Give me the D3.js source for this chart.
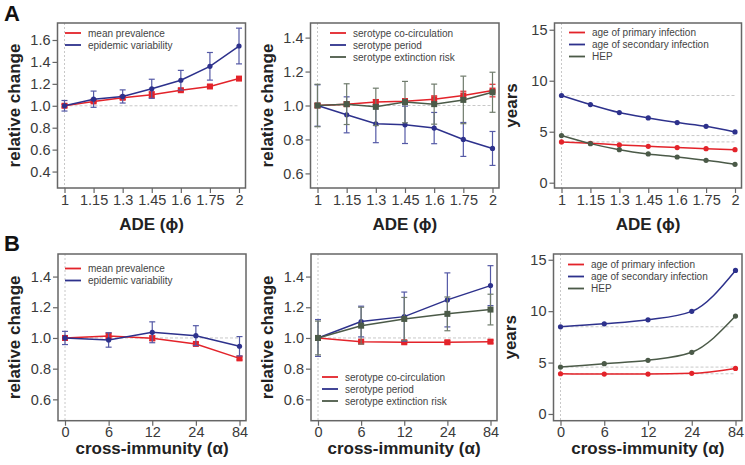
<!DOCTYPE html>
<html>
<head>
<meta charset="utf-8">
<script src="https://cdn.jsdelivr.net/npm/d3@7"></script>
<style>
  body { margin: 0; background: #fff; }
  svg text { font-family: "Liberation Sans", Arial, sans-serif; }
</style>
</head>
<body>
<div class="chart"></div>
<script>
// x categories
var adeTicks = ["1", "1.15", "1.3", "1.45", "1.6", "1.75", "2"];
var crossTicks = ["0", "6", "12", "24", "84"];

// Panel A1
var meanPrevA = [1.0, 1.04, 1.073, 1.10, 1.142, 1.176, 1.248];
var meanPrevAErr = [0.012, 0.012, 0.015, 0.028, 0.012, 0.012, 0.012];
var epiVarA = [1.0, 1.06, 1.085, 1.155, 1.233, 1.36, 1.545];
var epiVarAErr = [0.048, 0.074, 0.06, 0.087, 0.09, 0.126, 0.163];

// Panel A2
var cocircA = [1.0, 1.008, 1.02, 1.025, 1.037, 1.059, 1.088];
var cocircAErr = [0.01, 0.012, 0.015, 0.015, 0.02, 0.025, 0.037];
var periodA = [1.0, 0.945, 0.892, 0.886, 0.867, 0.80, 0.747];
var periodAErr = [0.122, 0.106, 0.111, 0.11, 0.092, 0.1, 0.1];
var extinctA = [1.0, 1.008, 0.992, 1.02, 1.008, 1.033, 1.078];
var extinctAErr = [0.125, 0.12, 0.11, 0.122, 0.118, 0.14, 0.118];

// Panel A3
var primaryA = [4.0, 3.87, 3.7, 3.57, 3.44, 3.34, 3.24];
var secondaryA = [8.55, 7.66, 6.88, 6.35, 5.9, 5.53, 4.98];
var hepA = [4.62, 3.83, 3.24, 2.82, 2.52, 2.19, 1.8];

// Panel B1
var meanPrevB = [1.0, 1.013, 0.998, 0.961, 0.867];
var meanPrevBErr = [0.01, 0.02, 0.015, 0.01, 0.01];
var epiVarB = [1.0, 0.987, 1.037, 1.015, 0.946];
var epiVarBErr = [0.043, 0.047, 0.068, 0.065, 0.063];

// Panel B2
var cocircB = [1.0, 0.976, 0.972, 0.972, 0.976];
var cocircBErr = [0.01, 0.01, 0.01, 0.01, 0.01];
var periodB = [1.0, 1.107, 1.139, 1.248, 1.341];
var periodBErr = [0.12, 0.1, 0.16, 0.176, 0.13];
var extinctB = [1.0, 1.08, 1.124, 1.157, 1.185];
var extinctBErr = [0.11, 0.12, 0.14, 0.11, 0.1];

// Panel B3
var primaryB = [3.91, 3.88, 3.88, 3.95, 4.43];
var secondaryB = [8.48, 8.77, 9.16, 9.98, 13.96];
var hepB = [4.56, 4.89, 5.22, 6.0, 9.52];

// y ticks
var relTicksA = [0.4, 0.6, 0.8, 1.0, 1.2, 1.4, 1.6];
var relTicksA2 = [0.6, 0.8, 1.0, 1.2, 1.4];
var relTicksB = [0.6, 0.8, 1.0, 1.2, 1.4];
var yearTicks = [0, 5, 10, 15];

var RED = "#e3232a", BLUE = "#2d318c", GREEN = "#4b5a48";

var svg = d3.select(".chart")
  .append("svg")
  .attr("width", 745)
  .attr("height", 465);

function drawPanel(p) {
  var g = svg.append("g");
  var x = d3.scalePoint().domain(p.cats).range([p.left + 7, p.right - 6.5]);
  var y = d3.scaleLinear().domain(p.ydom).range([p.bottom, p.top]);

  // reference lines
  g.append("line")
    .attr("x1", x(p.cats[0])).attr("x2", x(p.cats[0]))
    .attr("y1", p.top).attr("y2", p.bottom)
    .attr("stroke", "#c8c8c8").attr("stroke-dasharray", "2,2");
  p.refs.forEach(function(r) {
    g.append("line")
      .attr("x1", x(p.cats[0])).attr("x2", x(p.cats[p.cats.length - 1]))
      .attr("y1", y(r)).attr("y2", y(r))
      .attr("stroke", "#c8c8c8").attr("stroke-dasharray", "3,2");
  });

  // series
  p.series.forEach(function(s) {
    var pts = s.values.map(function(v, i) { return {c: p.cats[i], v: v, e: s.err ? s.err[i] : 0}; });
    if (s.err) {
      var eg = g.append("g").attr("stroke", s.errColor || s.color).attr("stroke-width", 1.2);
      pts.forEach(function(d) {
        eg.append("line").attr("x1", x(d.c)).attr("x2", x(d.c))
          .attr("y1", y(d.v - d.e)).attr("y2", y(d.v + d.e));
        eg.append("line").attr("x1", x(d.c) - 3).attr("x2", x(d.c) + 3)
          .attr("y1", y(d.v - d.e)).attr("y2", y(d.v - d.e));
        eg.append("line").attr("x1", x(d.c) - 3).attr("x2", x(d.c) + 3)
          .attr("y1", y(d.v + d.e)).attr("y2", y(d.v + d.e));
      });
    }
    var line = d3.line()
      .x(function(d) { return x(d.c); })
      .y(function(d) { return y(d.v); })
      .curve(p.smooth ? d3.curveMonotoneX : d3.curveLinear);
    g.append("path").datum(pts)
      .attr("fill", "none").attr("stroke", s.color).attr("stroke-width", 1.5)
      .attr("d", line);
    if (s.square) {
      g.selectAll(null).data(pts).enter().append("rect")
        .attr("x", function(d) { return x(d.c) - 3; })
        .attr("y", function(d) { return y(d.v) - 3; })
        .attr("width", 6).attr("height", 6)
        .attr("fill", s.color);
    } else {
      g.selectAll(null).data(pts).enter().append("circle")
        .attr("cx", function(d) { return x(d.c); })
        .attr("cy", function(d) { return y(d.v); })
        .attr("r", 2.6)
        .attr("fill", s.color);
    }
  });

  // box
  g.append("rect")
    .attr("x", p.left).attr("y", p.top)
    .attr("width", p.right - p.left).attr("height", p.bottom - p.top)
    .attr("fill", "none").attr("stroke", "#666").attr("stroke-width", 1.5);

  // axes
  var xAxis = g.append("g")
    .attr("transform", "translate(0," + p.bottom + ")")
    .call(d3.axisBottom(x).tickSize(5).tickPadding(p.xpad));
  var yAxis = g.append("g")
    .attr("transform", "translate(" + p.left + ",0)")
    .call(d3.axisLeft(y).tickValues(p.yticks).tickSize(5).tickPadding(2)
      .tickFormat(p.yfmt));
  [xAxis, yAxis].forEach(function(a) {
    a.select(".domain").remove();
    a.selectAll("line").attr("stroke", "#666").attr("stroke-width", 1.2);
    a.selectAll("text").attr("fill", "#3a3a3a").style("font-size", "14.5px");
  });

  // axis titles
  g.append("text")
    .attr("transform", "translate(" + (p.left - 38) + "," + ((p.top + p.bottom) / 2) + ") rotate(-90)")
    .attr("text-anchor", "middle")
    .style("font-size", "17px").style("font-weight", "bold").attr("fill", "#222")
    .text(p.ylabel);
  g.append("text")
    .attr("x", (p.left + p.right) / 2).attr("y", p.xlabY)
    .attr("text-anchor", "middle")
    .style("font-size", "17px").style("font-weight", "bold").attr("fill", "#222")
    .text(p.xlabel);

  // legend
  p.series.forEach(function(s, i) {
    var ly = p.legY + i * 12;
    g.append("line")
      .attr("x1", p.legX).attr("x2", p.legX + 16)
      .attr("y1", ly).attr("y2", ly)
      .attr("stroke", s.color).attr("stroke-width", 1.8);
    g.append("text")
      .attr("x", p.legX + 23).attr("y", ly + 3.5)
      .style("font-size", "10px").attr("fill", "#444")
      .text(s.name);
  });
}

var f1 = d3.format(".1f");
var f0 = d3.format("d");

drawPanel({
  left: 57.5, right: 245.5, top: 23, bottom: 188, cats: adeTicks, xpad: 2,
  ydom: [0.25, 1.755], yticks: relTicksA, yfmt: f1, refs: [1.0],
  ylabel: "relative change", xlabel: "ADE (\u03d5)", xlabY: 230,
  legX: 65, legY: 33,
  series: [
    {name: "mean prevalence", values: meanPrevA, err: meanPrevAErr, color: RED, square: true},
    {name: "epidemic variability", values: epiVarA, err: epiVarAErr, color: BLUE, errColor: "#5459a6"}
  ]
});
drawPanel({
  left: 310.5, right: 499, top: 23, bottom: 188, cats: adeTicks, xpad: 2,
  ydom: [0.514, 1.486], yticks: relTicksA2, yfmt: f1, refs: [1.0],
  ylabel: "relative change", xlabel: "ADE (\u03d5)", xlabY: 230,
  legX: 330, legY: 33,
  series: [
    {name: "serotype co-circulation", values: cocircA, err: cocircAErr, color: RED, square: true},
    {name: "serotype period", values: periodA, err: periodAErr, color: BLUE, errColor: "#5459a6"},
    {name: "serotype extinction risk", values: extinctA, err: extinctAErr, color: GREEN, errColor: "#6f7b6c", square: true}
  ]
});
drawPanel({
  left: 554.5, right: 741.5, top: 23, bottom: 188, cats: adeTicks, xpad: 2,
  ydom: [-0.52, 15.66], yticks: yearTicks, yfmt: f0, refs: [secondaryA[0], hepA[0], primaryA[0]],
  ylabel: "years", xlabel: "ADE (\u03d5)", xlabY: 230, smooth: true,
  legX: 569, legY: 32.5,
  series: [
    {name: "age of primary infection", values: primaryA, color: RED},
    {name: "age of secondary infection", values: secondaryA, color: BLUE},
    {name: "HEP", values: hepA, color: GREEN}
  ]
});
drawPanel({
  left: 58, right: 246, top: 254, bottom: 420.7, cats: crossTicks, xpad: 1,
  ydom: [0.461, 1.547], yticks: relTicksB, yfmt: f1, refs: [1.0],
  ylabel: "relative change", xlabel: "cross-immunity (\u03b1)", xlabY: 454,
  legX: 65, legY: 268.5,
  series: [
    {name: "mean prevalence", values: meanPrevB, err: meanPrevBErr, color: RED, square: true},
    {name: "epidemic variability", values: epiVarB, err: epiVarBErr, color: BLUE, errColor: "#5459a6"}
  ]
});
drawPanel({
  left: 311, right: 497, top: 254, bottom: 420.7, cats: crossTicks, xpad: 1,
  ydom: [0.461, 1.547], yticks: relTicksB, yfmt: f1, refs: [1.0],
  ylabel: "relative change", xlabel: "cross-immunity (\u03b1)", xlabY: 454,
  legX: 322, legY: 377,
  series: [
    {name: "serotype co-circulation", values: cocircB, err: cocircBErr, color: RED, square: true},
    {name: "serotype period", values: periodB, err: periodBErr, color: BLUE, errColor: "#5459a6"},
    {name: "serotype extinction risk", values: extinctB, err: extinctBErr, color: GREEN, errColor: "#6f7b6c", square: true}
  ]
});
drawPanel({
  left: 553.5, right: 742, top: 254, bottom: 420.7, cats: crossTicks, xpad: 1,
  ydom: [-0.655, 15.56], yticks: yearTicks, yfmt: f0, refs: [secondaryB[0], hepB[0], primaryB[0]],
  ylabel: "years", xlabel: "cross-immunity (\u03b1)", xlabY: 454, smooth: true,
  legX: 568, legY: 264.5,
  series: [
    {name: "age of primary infection", values: primaryB, color: RED},
    {name: "age of secondary infection", values: secondaryB, color: BLUE},
    {name: "HEP", values: hepB, color: GREEN}
  ]
});

// panel letters
svg.append("text").attr("x", 4).attr("y", 21)
  .style("font-size", "22px").style("font-weight", "bold").attr("fill", "#111").text("A");
svg.append("text").attr("x", 4).attr("y", 251)
  .style("font-size", "22px").style("font-weight", "bold").attr("fill", "#111").text("B");
</script>
</body>
</html>
